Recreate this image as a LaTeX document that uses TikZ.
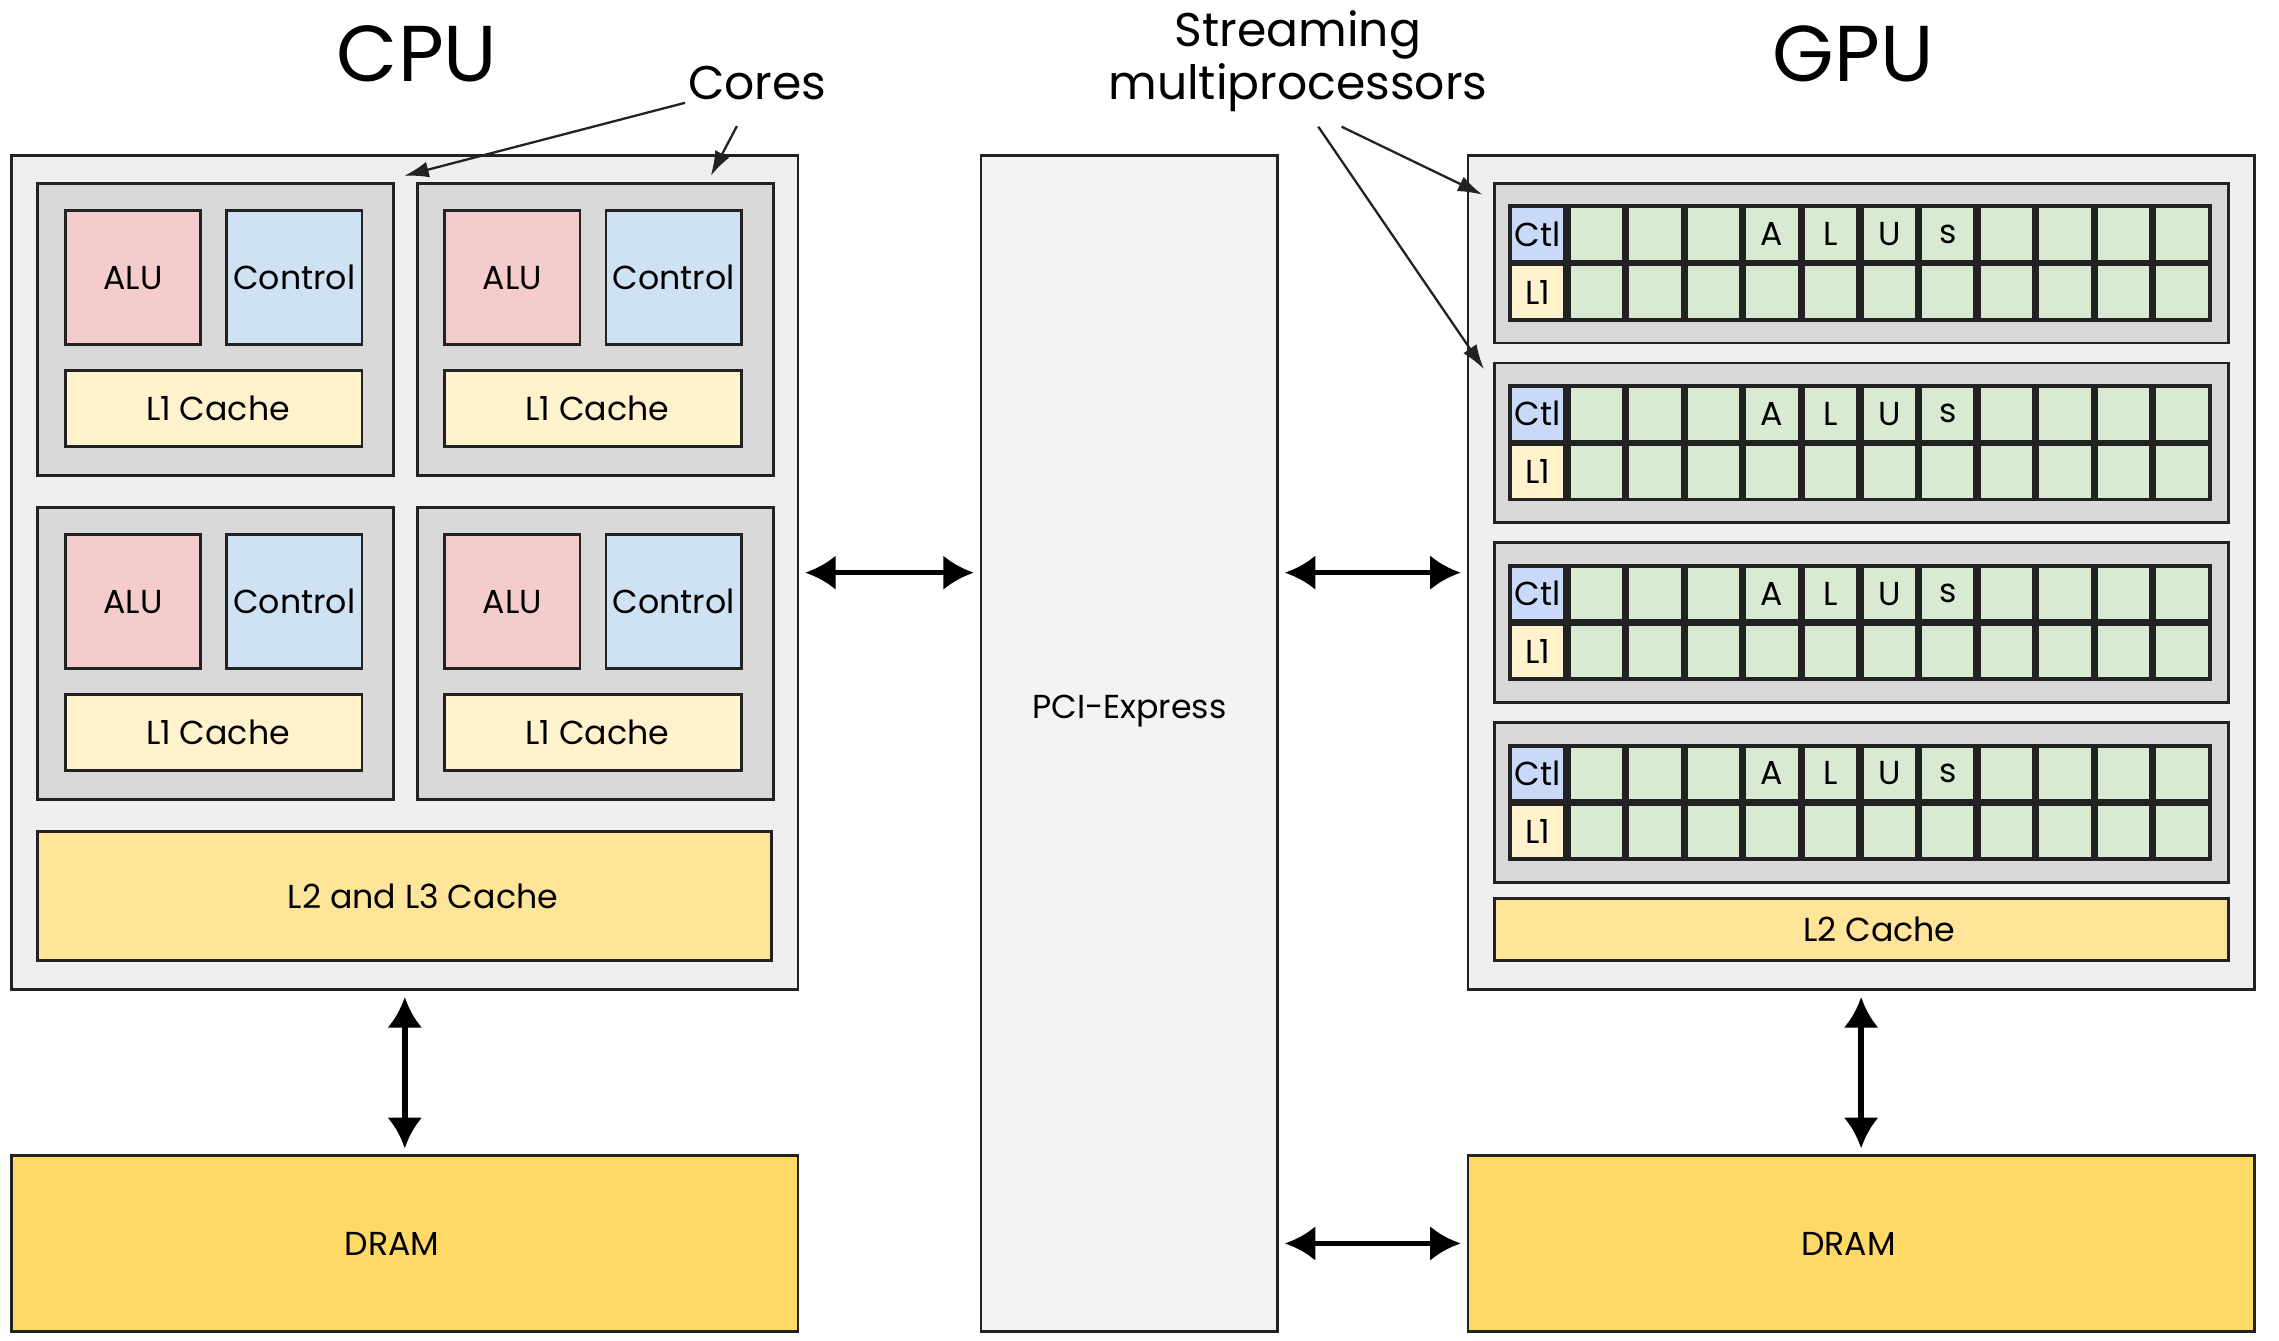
\documentclass[tikz,border=0pt]{standalone}
\usepackage{fontspec}
\setmainfont{Poppins}
\usetikzlibrary{arrows.meta,positioning}
\definecolor{myline}{RGB}{34,34,34}
\definecolor{myouter}{RGB}{239,239,239}
\definecolor{mycore}{RGB}{217,217,217}
\definecolor{myalu}{RGB}{244,204,204}
\definecolor{mycontrol}{RGB}{207,226,243}
\definecolor{mylone}{RGB}{255,242,204}
\definecolor{myltwo}{RGB}{255,229,153}
\definecolor{mydram}{RGB}{255,217,102}
\definecolor{mypcie}{RGB}{243,243,243}
\definecolor{mygreen}{RGB}{217,234,211}
\definecolor{myctl}{RGB}{201,218,248}
\newcommand{\unitpx}{0.2mm}
\newcommand{\gapcore}{3.6mm}
\tikzset{
    common/.style={anchor=north west, draw=myline, rectangle, line width=1.1pt, inner sep=0pt, outer sep=0pt, font=\fontsize{13}{15}\selectfont},
    boxsize/.style 2 args={minimum width=#1*\unitpx, minimum height=#2*\unitpx},
    chipbox/.style={common, fill=myouter, boxsize={541}{574}},
    corebox/.style={common, fill=mycore, boxsize={245}{201}},
    alubox/.style={common, fill=myalu, boxsize={93}{92}},
    ctrlbox/.style={common, fill=mycontrol, boxsize={93}{92}},
    lonebox/.style={common, fill=mylone, boxsize={204}{52}},
    ltwobox/.style={common, fill=myltwo, boxsize={505}{#1}},
    drambox/.style={common, fill=mydram, boxsize={541}{121}},
    pciebox/.style={common, fill=mypcie, line width=0.9pt, boxsize={204}{809}},
    smbox/.style={common, fill=mycore, boxsize={505}{110}},
    cellbox/.style={common, fill=mygreen, line width=1.5pt, boxsize={38}{38}},
    titletext/.style={font=\fontsize{31}{36}\selectfont},
    notetext/.style={inner sep=1pt, font=\fontsize{18.5}{21}\selectfont, align=center},
    link/.style={<->, >={Latex[length=4.2mm,width=4.8mm]}, line width=2.2pt, black, shorten <=1mm, shorten >=1mm},
    pointer/.style={-{Latex[length=3.4mm,width=2.2mm]}, line width=0.9pt, myline}
}
\begin{document}
\begin{tikzpicture}[x=\unitpx, y=-\unitpx]
    \useasboundingbox (0,0) rectangle (1568,922);

    % titles
    \node[titletext] (cputitle) at (287,37) {CPU};
    \node[titletext] (gputitle) at (1275,37) {GPU};
    \node[notetext] (cores) at (521,57) {Cores};
    \node[notetext] (smnote) at (893,42) {Streaming\\multiprocessors};

    % CPU side
    \node[chipbox] (cpu) at (8,107) {};
    \foreach \r/\c [count=\k] in {0/0,0/1,1/0,1/1}{
        \node[corebox] (core\k) at ({26+261*\c},{126+223*\r}) {};
        \node[alubox] (alu\k) at ({45+261*\c},{145+223*\r}) {ALU};
        \node[ctrlbox, right=\gapcore of alu\k] (ctrl\k) {Control};
        \node[lonebox, below right=\gapcore and 0mm of alu\k.south west] (lone\k) {\hspace{1.2mm}L1 Cache};
    }
    \node[ltwobox=89] (cpultwo) at (26,572) {\hspace{5mm}L2 and L3 Cache};
    \node[drambox] (cpudram) at (8,795) {DRAM\kern3.5mm};

    % bus
    \node[pciebox, label={[yshift=4.4mm, font=\fontsize{13}{15}\selectfont]center:PCI-Express}] (pcie) at (675,107) {};

    % GPU side
    \node[chipbox] (gpu) at (1010,107) {};
    \foreach \s in {0,...,3}{
        \pgfmathsetmacro{\smtop}{126+123.7*\s}
        \node[smbox] (sm\s) at (1028,\smtop) {};
        \node[cellbox, fill=myctl] (ctl\s) at (1039,\smtop+16) {Ctl};
        \node[cellbox, fill=mylone] (lcell\s) at (1039,\smtop+56) {L1};
        \foreach \c/\t in {1/{},2/{},3/{},4/A,5/L,6/U,7/s,8/{},9/{},10/{},11/{}}{
            \node[cellbox] (top\s-\c) at (1039+40.3*\c,\smtop+16) {\t};
            \node[cellbox] (bot\s-\c) at (1039+40.3*\c,\smtop+56) {};
        }
    }
    \node[ltwobox=43] (gpultwo) at (1028,618) {\hspace{5mm}L2 Cache};
    \node[drambox] (gpudram) at (1010,795) {DRAM\kern3.5mm};

    % connections
    \draw[link] (cpu.south) -- (cpudram.north);
    \draw[link] (gpu.south) -- (gpudram.north);
    \draw[link] (cpu.east) -- (pcie.west |- cpu.east);
    \draw[link] (gpu.west) -- (pcie.east |- gpu.west);
    \draw[link] (gpudram.west) -- (pcie.east |- gpudram.west);

    % annotations
    \coordinate (coretipa) at (278,121);
    \coordinate (coretipb) at (489,121);
    \coordinate (smtipa) at (1020,134);
    \coordinate (smtipb) at (1021,254);
    \draw[pointer] (cores.south west) -- (coretipa);
    \draw[pointer] ([shift={(-14,16)}]cores.south) -- (coretipb);
    \draw[pointer] ([shift={(30,8)}]smnote.south) -- (smtipa);
    \draw[pointer] ([shift={(14,8)}]smnote.south) -- (smtipb);
\end{tikzpicture}
\end{document}
